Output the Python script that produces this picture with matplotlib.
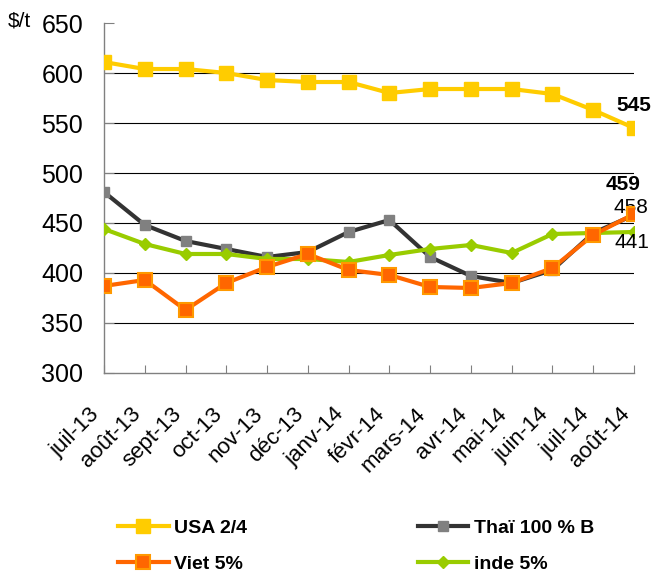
import matplotlib.pyplot as plt
import matplotlib.transforms as mtransforms
import numpy as np

plt.rcParams['font.family'] = ['Liberation Sans', 'DejaVu Sans']

months = ['juil-13', 'août-13', 'sept-13', 'oct-13', 'nov-13', 'déc-13', 'janv-14',
          'févr-14', 'mars-14', 'avr-14', 'mai-14', 'juin-14', 'juil-14', 'août-14']
usa = [611, 604, 604, 600, 593, 591, 591, 580, 584, 584, 584, 579, 563, 545]
thai = [481, 448, 432, 424, 416, 421, 441, 453, 416, 397, 390, 403, 440, 458]
viet = [387, 393, 363, 390, 406, 419, 403, 398, 386, 385, 390, 405, 438, 459]
inde = [444, 429, 419, 419, 414, 414, 411, 418, 424, 428, 420, 439, 440, 441]

x = np.arange(len(months))

fig = plt.figure(figsize=(6.52, 5.77), dpi=100)
ax = fig.add_axes([0.1595, 0.3536, 0.8129, 0.6065])

l_usa, = ax.plot(x, usa, color='#FFCC00', lw=3, marker='s', ms=9.5,
                 mfc='#FFCC00', mec='#FFCC00', label='USA 2/4', zorder=3)
l_thai, = ax.plot(x, thai, color='#333333', lw=3, marker='s', ms=6.5,
                  mfc='#808080', mec='#808080', label='Thaï 100 % B', zorder=3)
l_viet, = ax.plot(x, viet, color='#FF6600', lw=3, marker='s', ms=9.5,
                  mfc='#FF6600', mec='#FF9900', mew=1.5, label='Viet 5%', zorder=4)
l_inde, = ax.plot(x, inde, color='#99CC00', lw=3, marker='D', ms=6.5,
                  mfc='#99CC00', mec='#99CC00', label='inde 5%', zorder=3)

# valeurs du dernier mois
ax.text(x[-1], usa[-1] + 23, str(usa[-1]), fontsize=15, fontweight='bold',
        ha='center', va='center')
ax.text(x[-1] - 0.27, viet[-1] + 29, str(viet[-1]), fontsize=15, fontweight='bold',
        ha='center', va='center')
ax.text(x[-1] - 0.07, thai[-1] + 7, str(thai[-1]), fontsize=15,
        ha='center', va='center')
ax.text(x[-1] - 0.05, inde[-1] - 11, str(inde[-1]), fontsize=15,
        ha='center', va='center')

ax.set_xlim(0, len(months) - 1)
ax.set_ylim(300, 650)
ax.set_yticks(np.arange(300, 651, 50))
ax.set_xticks(x)
ax.set_xticklabels(months, rotation=45, ha='right', va='top', fontsize=16)
shift = mtransforms.ScaledTranslation(-14 / 100, 0, fig.dpi_scale_trans)
for lab in ax.get_xticklabels():
    lab.set_transform(lab.get_transform() + shift)
ax.tick_params(axis='y', direction='in', length=7, color='#808080', labelsize=18, pad=15)
ax.tick_params(axis='x', direction='in', length=6, color='#808080', pad=22)

for v in range(350, 601, 50):
    ax.axhline(v, color='black', lw=0.8, zorder=1)

for s in ['top', 'right']:
    ax.spines[s].set_visible(False)
for s in ['left', 'bottom']:
    ax.spines[s].set_color('#808080')
    ax.spines[s].set_linewidth(1)

fig.text(0.012, 0.964, '$/t', fontsize=15, va='center', ha='left')

fig.legend(handles=[l_usa, l_viet, l_thai, l_inde], ncol=2, loc='upper left',
           bbox_to_anchor=(0.169, 0.113), frameon=False, handlelength=2.6,
           columnspacing=8.8, handletextpad=0.27, labelspacing=0.95,
           borderaxespad=0, prop={'size': 14, 'weight': 'bold'})

fig.savefig('out.png', dpi=100)
